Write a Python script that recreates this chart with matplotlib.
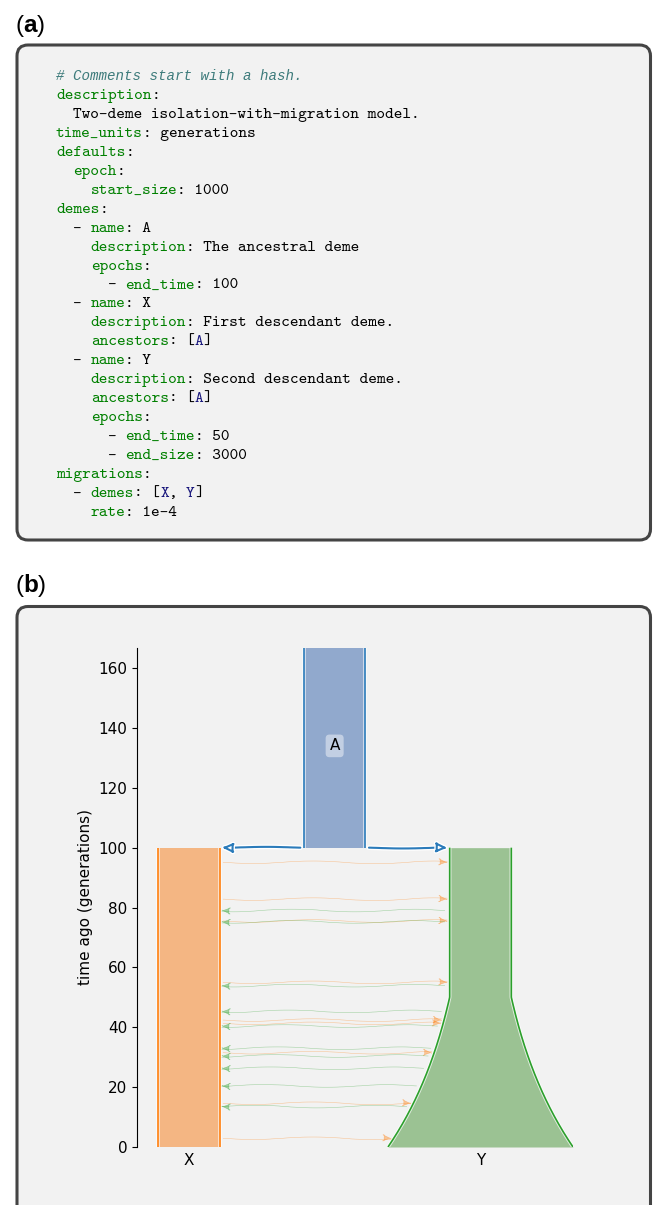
import numpy as np
import matplotlib.pyplot as plt
import matplotlib.patheffects as pe
from matplotlib.patches import FancyBboxPatch, FancyArrowPatch

plt.rcParams['mathtext.fontset'] = 'custom'
plt.rcParams['mathtext.rm'] = 'Liberation Sans'
plt.rcParams['mathtext.bf'] = 'Liberation Sans:bold'

# ---- panel (a): YAML source, one list of (text, kind) tokens per line
code_lines = [
    [("# Comments start with a hash.", "comment")],
    [("description", "key"), (":", "plain")],
    [("  Two-deme isolation-with-migration model.", "plain")],
    [("time_units", "key"), (": generations", "plain")],
    [("defaults", "key"), (":", "plain")],
    [("  ", "plain"), ("epoch", "key"), (":", "plain")],
    [("    ", "plain"), ("start_size", "key"), (": 1000", "plain")],
    [("demes", "key"), (":", "plain")],
    [("  - ", "plain"), ("name", "key"), (": A", "plain")],
    [("    ", "plain"), ("description", "key"), (": The ancestral deme", "plain")],
    [("    ", "plain"), ("epochs", "key"), (":", "plain")],
    [("      - ", "plain"), ("end_time", "key"), (": 100", "plain")],
    [("  - ", "plain"), ("name", "key"), (": X", "plain")],
    [("    ", "plain"), ("description", "key"), (": First descendant deme.", "plain")],
    [("    ", "plain"), ("ancestors", "key"), (": [", "plain"), ("A", "name"), ("]", "plain")],
    [("  - ", "plain"), ("name", "key"), (": Y", "plain")],
    [("    ", "plain"), ("description", "key"), (": Second descendant deme.", "plain")],
    [("    ", "plain"), ("ancestors", "key"), (": [", "plain"), ("A", "name"), ("]", "plain")],
    [("    ", "plain"), ("epochs", "key"), (":", "plain")],
    [("      - ", "plain"), ("end_time", "key"), (": 50", "plain")],
    [("      - ", "plain"), ("end_size", "key"), (": 3000", "plain")],
    [("migrations", "key"), (":", "plain")],
    [("  - ", "plain"), ("demes", "key"), (": [", "plain"), ("X", "name"), (", ", "plain"),
     ("Y", "name"), ("]", "plain")],
    [("    ", "plain"), ("rate", "key"), (": 1e-4", "plain")],
]
token_colors = {"plain": "black", "key": "#008000", "name": "#19177C", "comment": "#3D7B7B"}

# ---- panel (b): the model
start_size = 1000
split_time = 100
y_growth_time = 50
y_end_size = 3000
deme_colors = {"A": "#2b7bba", "X": "#ff7f0e", "Y": "#2ca02c"}
deme_fills = {"A": "#91a9cd", "X": "#f4b683", "Y": "#9bc293"}
# migration arrows, times
mig_x_to_y = [95.1, 82.8, 75.5, 55.0, 42.4, 41.3, 31.5, 14.6, 2.9]
mig_y_to_x = [79.0, 75.2, 53.9, 45.3, 40.4, 33.0, 30.4, 26.3, 20.4, 13.5]
yticks = [0, 20, 40, 60, 80, 100, 120, 140, 160]

W, H = 653, 1205
fig = plt.figure(figsize=(W / 100, H / 100), dpi=100)
bg = fig.add_axes([0, 0, 1, 1])
bg.set_xlim(0, W)
bg.set_ylim(H, 0)
bg.axis('off')

box_kw = dict(boxstyle="round,pad=0,rounding_size=11", fc="#f2f2f2", ec="#444444", lw=2.2)
bg.add_patch(FancyBboxPatch((17, 45), 633.5, 495, **box_kw))
bg.add_patch(FancyBboxPatch((17, 606.5), 633.5, 620, **box_kw))

bg.text(15, 32, r"($\mathbf{a}$)", family="Liberation Sans", fontsize=17.5)
bg.text(15, 592, r"($\mathbf{b}$)", family="Liberation Sans", fontsize=17.5)

fs_code = 11.9
cw = 0.525 * fs_code * 100 / 72
x0, y0, dy = 56, 80, 18.95
for i, line in enumerate(code_lines):
    col = 0
    for txt, kind in line:
        if kind == "comment":
            bg.text(x0 + col * cw, y0 + i * dy, txt, color=token_colors[kind],
                    family="Liberation Mono", style="italic", fontsize=10.2)
        elif txt.strip():
            lead = len(txt) - len(txt.lstrip())
            bg.text(x0 + (col + lead) * cw, y0 + i * dy, txt.lstrip(),
                    color=token_colors[kind], family="cmtt10", fontsize=fs_code)
        col += len(txt)

# ---- tubes plot
ax = fig.add_axes([137 / W, 1 - 1147 / H, 436 / W, (1147 - 648) / H])
ax.set_facecolor("none")
sep = 4730
pos = {"X": 0, "A": sep / 2, "Y": sep}
top = 166.7
ax.set_xlim(-840, sep + y_end_size / 2)
ax.set_ylim(0, top)


def y_size(t):
    t = np.asarray(t, dtype=float)
    r = np.log(y_end_size / start_size) / y_growth_time
    return np.where(t < y_growth_time, y_end_size * np.exp(-r * t), start_size)


halo = [pe.Stroke(linewidth=2.6, foreground="white", alpha=0.7), pe.Normal()]
tubes = {
    "A": np.array([split_time, top + 10]),
    "X": np.array([0, split_time]),
    "Y": np.linspace(0, split_time, 300),
}
for name, t in tubes.items():
    size = y_size(t) if name == "Y" else np.full_like(t, start_size, dtype=float)
    c = pos[name]
    ax.fill_betweenx(t, c - size / 2, c + size / 2, color=deme_fills[name], lw=0, zorder=1)
    for edge in (c - size / 2, c + size / 2):
        ax.plot(edge, t, color=deme_colors[name], lw=1.2, path_effects=halo, zorder=2,
                solid_capstyle="butt")

ax.text(pos["A"], 134, "A", ha="center", va="center", fontsize=11,
        bbox=dict(boxstyle="round,pad=0.25", fc="white", ec="none", alpha=0.45), zorder=5)

# ancestry arrows from A to X and Y
arrow_halo = [pe.Stroke(linewidth=3.4, foreground="white"), pe.Normal()]
for x_from, x_to in [(pos["A"] - start_size / 2, pos["X"] + start_size / 2),
                     (pos["A"] + start_size / 2, pos["Y"] - start_size / 2)]:
    arr = FancyArrowPatch((x_from, split_time), (x_to, split_time),
                          arrowstyle="-|>,head_length=0.65,head_width=0.3",
                          mutation_scale=10, color=deme_colors["A"], fc="white",
                          lw=1.5, shrinkA=2.5, shrinkB=1.5, zorder=4,
                          path_effects=arrow_halo)
    arr.set_sketch_params(0.8, 150, 2)
    ax.add_patch(arr)

# migration arrows
x_edge = pos["X"] + start_size / 2


def y_edge(t):
    return pos["Y"] - float(y_size(t)) / 2


mig_kw = dict(arrowstyle="-|>,head_length=0.6,head_width=0.25", mutation_scale=10,
              alpha=0.4, lw=0.4, zorder=3)
for t in mig_x_to_y:
    arr = FancyArrowPatch((x_edge, t), (y_edge(t), t), color=deme_colors["X"],
                          shrinkA=2.5, shrinkB=1.2, **mig_kw)
    arr.set_sketch_params(1.3, 130, 2)
    ax.add_patch(arr)
for t in mig_y_to_x:
    arr = FancyArrowPatch((y_edge(t), t), (x_edge, t), color=deme_colors["Y"],
                          shrinkA=3.5, shrinkB=1.0, **mig_kw)
    arr.set_sketch_params(1.3, 130, 2)
    ax.add_patch(arr)

for s in ("top", "right", "bottom"):
    ax.spines[s].set_visible(False)
ax.set_yticks(yticks)
ax.set_xticks([pos["X"], pos["Y"]], ["X", "Y"])
ax.tick_params(axis="x", length=0, pad=4.3, labelsize=11)
ax.tick_params(axis="y", labelsize=11)
ax.set_ylabel("time ago (generations)", fontsize=11)

fig.savefig("out.png", dpi=100)
